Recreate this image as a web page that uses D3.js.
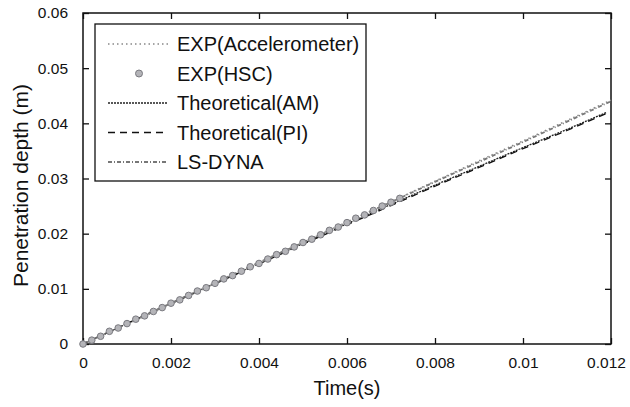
<!DOCTYPE html>
<html>
<head>
<meta charset="utf-8">
<script src="https://cdn.jsdelivr.net/npm/d3@7"></script>
<style>
  body { margin: 0; background: #fff; }
  svg { font-family: "Liberation Sans", Arial, sans-serif; }
</style>
</head>
<body>
<svg id="svg" width="630" height="407"></svg>
<script>
// data
const accTime = [0, 0.001, 0.002, 0.003, 0.004, 0.005, 0.006, 0.007, 0.008, 0.009, 0.010, 0.011, 0.012];
const accDepth = [0, 0.0036, 0.0072, 0.0110, 0.0147, 0.0184, 0.0221, 0.0258, 0.0295, 0.0332, 0.0368, 0.0405, 0.0442];

const hscTime = [0, 0.0002, 0.0004, 0.0006, 0.0008, 0.0010, 0.0012, 0.0014, 0.0016, 0.0018,
  0.0020, 0.0022, 0.0024, 0.0026, 0.0028, 0.0030, 0.0032, 0.0034, 0.0036, 0.0038,
  0.0040, 0.0042, 0.0044, 0.0046, 0.0048, 0.0050, 0.0052, 0.0054, 0.0056, 0.0058,
  0.0060, 0.0062, 0.0064, 0.0066, 0.0068, 0.0070, 0.0072];
const hscDepth = [0.0000, 0.0007, 0.0014, 0.0023, 0.0029, 0.0037, 0.0045, 0.0051, 0.0059, 0.0066,
  0.0074, 0.0080, 0.0088, 0.0096, 0.0102, 0.0110, 0.0118, 0.0124, 0.0132, 0.0140,
  0.0146, 0.0154, 0.0162, 0.0168, 0.0176, 0.0184, 0.0190, 0.0198, 0.0206, 0.0212,
  0.0220, 0.0228, 0.0234, 0.0242, 0.0250, 0.0257, 0.0264];

const theoTime = [0, 0.001, 0.002, 0.003, 0.004, 0.005, 0.006, 0.007, 0.008, 0.009, 0.010, 0.011, 0.0119];
const amDepth = [0, 0.0037, 0.0074, 0.0110, 0.0146, 0.0182, 0.0218, 0.0253, 0.0288, 0.0322, 0.0356, 0.0389, 0.0420];
const piDepth = [0, 0.0037, 0.0073, 0.0109, 0.0145, 0.0181, 0.0216, 0.0251, 0.0286, 0.0320, 0.0354, 0.0387, 0.0418];

const dynaTime = [0, 0.001, 0.002, 0.003, 0.004, 0.005, 0.006, 0.007, 0.008, 0.009, 0.010, 0.011, 0.012];
const dynaDepth = [0, 0.0037, 0.0074, 0.0111, 0.0148, 0.0184, 0.0221, 0.0257, 0.0294, 0.0330, 0.0366, 0.0403, 0.0440];

const xTicks = [0, 0.002, 0.004, 0.006, 0.008, 0.01, 0.012];
const yTicks = [0, 0.01, 0.02, 0.03, 0.04, 0.05, 0.06];
const legendLabels = ["EXP(Accelerometer)", "EXP(HSC)", "Theoretical(AM)", "Theoretical(PI)", "LS-DYNA"];

const plotLeft = 83, plotRight = 611, plotTop = 13, plotBottom = 344;

const x = d3.scaleLinear().domain([0, 0.012]).range([plotLeft, plotRight]);
const y = d3.scaleLinear().domain([0, 0.06]).range([plotBottom, plotTop]);

const svg = d3.select("#svg");

// frame
svg.append("rect")
  .attr("x", plotLeft).attr("y", plotTop)
  .attr("width", plotRight - plotLeft).attr("height", plotBottom - plotTop)
  .attr("fill", "none").attr("stroke", "#111").attr("stroke-width", 1.5);

const fmt = d => d === 0 ? "0" : String(+d.toFixed(3));

// axes with inward ticks
const gx = svg.append("g").attr("transform", `translate(0,${plotBottom})`)
  .call(d3.axisBottom(x).tickValues(xTicks).tickSize(-6).tickPadding(13).tickFormat(fmt));
const gxt = svg.append("g").attr("transform", `translate(0,${plotTop})`)
  .call(d3.axisTop(x).tickValues(xTicks).tickSize(-6).tickFormat(""));
const gy = svg.append("g").attr("transform", `translate(${plotLeft},0)`)
  .call(d3.axisLeft(y).tickValues(yTicks).tickSize(-6).tickPadding(15).tickFormat(fmt));
const gyr = svg.append("g").attr("transform", `translate(${plotRight},0)`)
  .call(d3.axisRight(y).tickValues(yTicks).tickSize(-6).tickFormat(""));

[gx, gxt, gy, gyr].forEach(g => {
  g.select(".domain").remove();
  g.selectAll("line").attr("stroke", "#111").attr("stroke-width", 1.3);
  g.selectAll("text").attr("font-size", 15.5).attr("fill", "#111")
    .attr("font-family", "Liberation Sans, Arial, sans-serif");
});
// last x label sits a little left so it stays inside the page
gx.selectAll("text").filter(d => d === 0.012).attr("dx", -5);

// axis titles
svg.append("text")
  .attr("x", (plotLeft + plotRight) / 2).attr("y", 395)
  .attr("text-anchor", "middle").attr("font-size", 20).attr("fill", "#111")
  .text("Time(s)");
svg.append("text")
  .attr("transform", `translate(28,${(plotTop + plotBottom) / 2 + 7}) rotate(-90)`)
  .attr("text-anchor", "middle").attr("font-size", 21).attr("fill", "#111")
  .text("Penetration depth (m)");

const line = d3.line();
const pts = (ts, ds) => ts.map((t, i) => [x(t), y(ds[i])]);

const styles = {
  acc: { stroke: "#888", width: 1.6, dash: "1.5,3" },
  am: { stroke: "#222", width: 1.3, dash: "2,1" },
  pi: { stroke: "#111", width: 1.3, dash: "7,5" },
  dyna: { stroke: "#777", width: 1.8, dash: "4,2,1,2" }
};

const plot = svg.append("g");
plot.append("path").attr("d", line(pts(theoTime, amDepth)))
  .attr("fill", "none").attr("stroke", styles.am.stroke)
  .attr("stroke-width", styles.am.width).attr("stroke-dasharray", styles.am.dash);
plot.append("path").attr("d", line(pts(theoTime, piDepth)))
  .attr("fill", "none").attr("stroke", styles.pi.stroke)
  .attr("stroke-width", styles.pi.width).attr("stroke-dasharray", styles.pi.dash);
plot.append("path").attr("d", line(pts(dynaTime, dynaDepth)))
  .attr("fill", "none").attr("stroke", styles.dyna.stroke)
  .attr("stroke-width", styles.dyna.width).attr("stroke-dasharray", styles.dyna.dash);
plot.append("path").attr("d", line(pts(accTime, accDepth)))
  .attr("fill", "none").attr("stroke", styles.acc.stroke)
  .attr("stroke-width", styles.acc.width).attr("stroke-dasharray", styles.acc.dash);

plot.selectAll("circle.hsc")
  .data(hscTime.map((t, i) => [t, hscDepth[i]]))
  .join("circle")
  .attr("class", "hsc")
  .attr("cx", d => x(d[0])).attr("cy", d => y(d[1]))
  .attr("r", 3.3)
  .attr("fill", "#b4b4b8").attr("stroke", "#7a7a80").attr("stroke-width", 1);

// legend
const lg = svg.append("g");
lg.append("rect")
  .attr("x", 95).attr("y", 24).attr("width", 271).attr("height", 157)
  .attr("fill", "#fff").attr("stroke", "#111").attr("stroke-width", 1.3);

const rowY = i => 44 + i * 29.5;
const sampleKeys = ["acc", null, "am", "pi", "dyna"];
legendLabels.forEach((lab, i) => {
  const key = sampleKeys[i];
  if (key) {
    const s = styles[key];
    lg.append("line")
      .attr("x1", 108).attr("x2", 168).attr("y1", rowY(i)).attr("y2", rowY(i))
      .attr("stroke", s.stroke).attr("stroke-width", s.width).attr("stroke-dasharray", s.dash);
  } else {
    lg.append("circle").attr("cx", 139).attr("cy", rowY(i)).attr("r", 3.5)
      .attr("fill", "#b4b4b8").attr("stroke", "#7a7a80").attr("stroke-width", 1);
  }
  lg.append("text")
    .attr("x", 177).attr("y", rowY(i) + 7)
    .attr("font-size", 20).attr("fill", "#111")
    .text(lab);
});
</script>
</body>
</html>
